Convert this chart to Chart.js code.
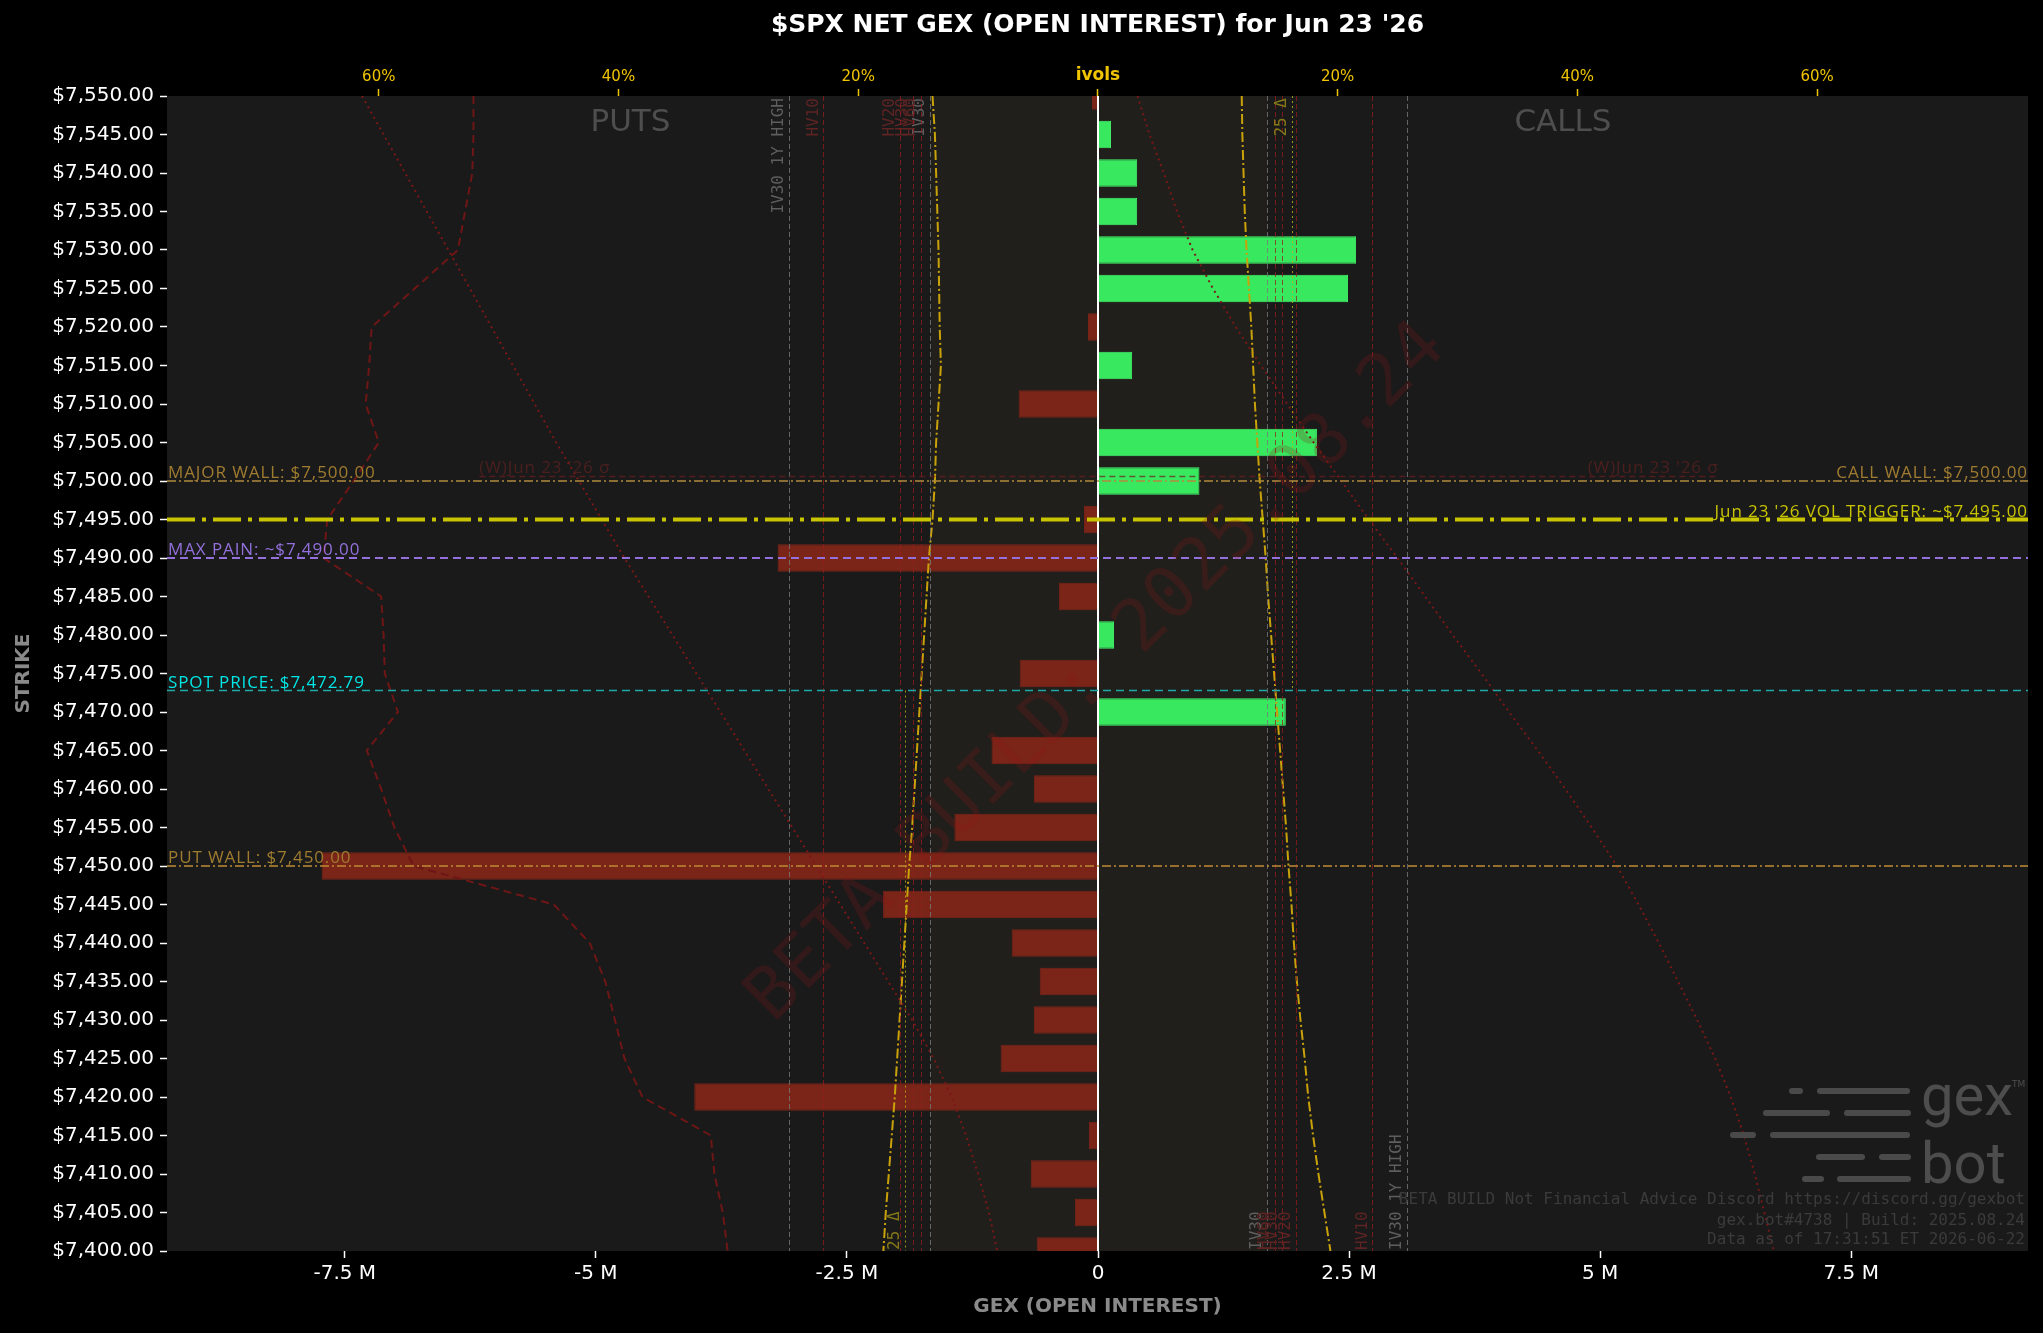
<!DOCTYPE html>
<html>
<head>
<meta charset="utf-8">
<script src="https://cdn.jsdelivr.net/npm/chart.js@4.4.0/dist/chart.umd.min.js"></script>
<style>
html,body{margin:0;padding:0;background:#000;}
#wrap{width:2043px;height:1333px;}
</style>
</head>
<body>
<div id="wrap"><canvas id="gexChart" width="2043" height="1333"></canvas></div>
<script>
// strikes, top to bottom
var strikes = [7550,7545,7540,7535,7530,7525,7520,7515,7510,7505,7500,7495,7490,7485,7480,7475,7470,
  7465,7460,7455,7450,7445,7440,7435,7430,7425,7420,7415,7410,7405,7400];
// net GEX by open interest, millions
var netGex = [-0.06,0.13,0.39,0.39,2.57,2.49,-0.10,0.34,-0.79,2.18,1.01,-0.14,-3.19,-0.39,0.16,-0.78,1.87,
  -1.06,-0.64,-1.43,-7.73,-2.14,-0.86,-0.58,-0.64,-0.97,-4.02,-0.09,-0.67,-0.23,-0.61];
// implied vols (%) - put side drawn to the left, call side to the right
var putIv = [13.8,13.6,13.5,13.4,13.3,13.25,13.2,13.1,13.3,13.5,13.6,13.8,14.1,14.3,14.5,14.7,14.9,
  15.1,15.3,15.5,15.75,15.95,16.15,16.35,16.55,16.75,16.95,17.2,17.45,17.7,17.9];
var callIv = [12.0,12.05,12.15,12.25,12.4,12.6,12.8,12.95,13.1,13.3,13.5,13.75,14.0,14.2,14.45,14.7,14.95,
  15.2,15.45,15.7,15.9,16.15,16.35,16.6,16.9,17.25,17.55,17.95,18.4,18.9,19.4];
var putCurveB = [52.1,52.1,52.2,52.8,53.4,57.0,60.6,60.8,61.1,60.0,62.1,64.3,64.6,59.8,59.6,59.5,58.4,
  61.0,59.8,58.7,57.1,45.4,42.4,41.1,40.3,39.5,38.0,32.3,32.0,31.3,30.9];
var putCurveC = [61.4,59.6,57.8,56.0,54.2,52.4,50.6,48.8,47.0,45.2,43.3,41.4,39.5,37.5,35.5,33.5,31.5,
  29.5,27.5,25.5,23.5,21.5,19.5,17.5,15.5,13.7,12.2,11.0,10.0,9.1,8.4];
var callCurveC = [3.3,4.3,5.5,6.6,7.9,9.6,11.5,13.6,15.8,18.0,20.3,22.6,25.0,27.3,29.6,32.0,34.3,
  36.7,39.0,41.2,43.3,45.1,46.8,48.4,50.0,51.5,52.8,53.9,54.8,55.6,56.4];

// reference vols (%)
var refNames = ['IV30','HV60','HV30','HV20','HV10','IV30 1Y HIGH'];
var putRefs  = [14.0,14.75,15.4,16.5,22.9,25.8];
var callRefs = [14.1,14.8,15.4,16.5,22.9,25.8];
var refKinds = ['iv','hv','hv','hv','hv','iv'];
var put25d = 16.1, call25d = 16.2;

// levels
var majorWall = 7500, callWall = 7500, putWall = 7450, volTrigger = 7495, maxPain = 7490, spot = 7472.79;
var weeklySigma = 7500.6, weeklySigmaSpan = [-6.16, 6.17];

var gexTicks = [-7.5,-5,-2.5,0,2.5,5,7.5];
var ivTicks = [-60,-40,-20,0,20,40,60];

var FONT = 'DejaVu Sans';
var MONO = 'DejaVu Sans Mono';
var LBL = 'Open Sans';

function money(v){ return '$' + v.toLocaleString('en-US',{minimumFractionDigits:2,maximumFractionDigits:2}); }

var decor = {
  id: 'decor',
  beforeDraw: function(chart){
    var c = chart.ctx, a = chart.chartArea;
    c.save();
    c.fillStyle = '#000';
    c.fillRect(0,0,chart.width,chart.height);
    c.fillStyle = '#1a1a1a';
    c.fillRect(a.left,a.top,a.right-a.left,a.bottom-a.top);
    var x2 = chart.scales.x2;
    var b0 = x2.getPixelForValue(-putRefs[0]), b1 = x2.getPixelForValue(callRefs[0]);
    c.fillStyle = '#201f1b';
    c.fillRect(b0,a.top,b1-b0,a.bottom-a.top);
    // PUTS / CALLS
    c.fillStyle = '#4e4e4e';
    c.font = '31px ' + FONT;
    c.textAlign = 'center'; c.textBaseline = 'middle';
    c.fillText('PUTS', x2.getPixelForValue(-39), a.top + 27);
    c.fillText('CALLS', x2.getPixelForValue(38.8), a.top + 27);
    c.restore();
  },
  afterDatasetsDraw: function(chart){
    var c = chart.ctx, a = chart.chartArea;
    var xs = chart.scales.x, x2 = chart.scales.x2, ys = chart.scales.y;
    c.save();
    c.beginPath(); c.rect(a.left,a.top,a.right-a.left,a.bottom-a.top); c.clip();

    function vline(px, color, dash, y0, y1){
      c.beginPath(); c.strokeStyle = color; c.lineWidth = 1; c.setLineDash(dash);
      c.moveTo(Math.round(px)+0.5, y0); c.lineTo(Math.round(px)+0.5, y1); c.stroke();
    }
    function vlabel(px, text, color, atTop){
      c.save();
      c.translate(px - 2, atTop ? a.top + 2 : a.bottom - 1);
      c.rotate(-Math.PI/2);
      c.font = '16px ' + MONO; c.fillStyle = color;
      c.textBaseline = 'bottom'; c.textAlign = atTop ? 'right' : 'left';
      c.fillText(text, 0, 0);
      c.restore();
    }
    // vertical vol references
    for (var i = 0; i < refNames.length; i++){
      var col = refKinds[i] === 'iv' ? 'rgba(120,120,120,0.8)' : 'rgba(150,30,30,0.75)';
      var tcol = refKinds[i] === 'iv' ? '#5e5e5e' : '#5e2323';
      var pl = x2.getPixelForValue(-putRefs[i]), pr = x2.getPixelForValue(callRefs[i]);
      vline(pl, col, [5,3], a.top, a.bottom);
      vline(pr, col, [5,3], a.top, a.bottom);
      vlabel(pl, refNames[i], tcol, true);
      vlabel(pr, refNames[i], tcol, false);
    }
    var ySpot = ys.getPixelForValue(spot);
    var p25 = x2.getPixelForValue(-put25d), c25 = x2.getPixelForValue(call25d);
    vline(p25, 'rgba(190,180,20,0.8)', [2,3], ySpot, a.bottom);
    vline(c25, 'rgba(190,180,20,0.8)', [2,3], a.top, ySpot);
    vlabel(p25, '25 \u0394', '#857a18', false);
    vlabel(c25, '25 \u0394', '#857a18', true);

    // zero line
    c.setLineDash([]);
    c.strokeStyle = '#ffffff'; c.lineWidth = 2;
    var x0 = xs.getPixelForValue(0);
    c.beginPath(); c.moveTo(x0, a.top); c.lineTo(x0, a.bottom); c.stroke();

    // horizontal levels
    function hline(v, color, width, dash, xa, xb){
      var py = ys.getPixelForValue(v);
      c.beginPath(); c.strokeStyle = color; c.lineWidth = width; c.setLineDash(dash);
      c.moveTo(xa === undefined ? a.left : xa, py); c.lineTo(xb === undefined ? a.right : xb, py); c.stroke();
      return py;
    }
    function label(text, color, x, y, align){
      c.font = '17px ' + LBL; c.fillStyle = color; c.textAlign = align; c.textBaseline = 'alphabetic';
      c.letterSpacing = '0.9px';
      c.fillText(text, align === 'right' ? x + 0.9 : x, y);
      c.letterSpacing = '0px';
    }
    var wx0 = xs.getPixelForValue(weeklySigmaSpan[0]), wx1 = xs.getPixelForValue(weeklySigmaSpan[1]);
    var wy = hline(weeklySigma, 'rgba(110,30,30,0.7)', 1.5, [6,4], wx0, wx1);
    label("(W)Jun 23 '26 \u03c3", '#4c1f1f', wx0, wy - 3, 'left');
    label("(W)Jun 23 '26 \u03c3", '#4c1f1f', wx1, wy - 3, 'right');

    var yMW = hline(majorWall, '#b08a3c', 1.5, [9,3,2,3]);
    label('MAJOR WALL: ' + money(majorWall), '#a07c30', a.left + 1, yMW - 3, 'left');
    label('CALL WALL: ' + money(callWall), '#a07c30', a.right - 1, ys.getPixelForValue(callWall) - 3, 'right');
    var yPW = hline(putWall, '#c08a34', 1.5, [9,3,2,3]);
    label('PUT WALL: ' + money(putWall), '#a07c30', a.left + 1, yPW - 3, 'left');
    var yVT = hline(volTrigger, '#c8c400', 4, [28,7,4,7]);
    label("Jun 23 '26 VOL TRIGGER: ~" + money(volTrigger), '#c8c400', a.right - 1, yVT - 3, 'right');
    var yMP = hline(maxPain, '#9370db', 2, [8,5]);
    label('MAX PAIN: ~' + money(maxPain), '#9370db', a.left + 1, yMP - 3, 'left');
    var yS = hline(spot, '#1fa8a8', 1.5, [8,5]);
    label('SPOT PRICE: ' + money(spot), '#00e5e5', a.left + 1, yS - 3, 'left');
    c.restore();
  },
  afterDraw: function(chart){
    var c = chart.ctx, a = chart.chartArea;
    c.save();
    // watermark
    c.save();
    c.beginPath(); c.rect(a.left,a.top,a.right-a.left,a.bottom-a.top); c.clip();
    c.translate((a.left+a.right)/2, (a.top+a.bottom)/2);
    c.rotate(-Math.PI/4);
    c.font = '72px ' + MONO; c.fillStyle = 'rgba(140,25,25,0.22)';
    c.textAlign = 'center'; c.textBaseline = 'middle';
    c.fillText('BETA BUILD: 2025.08.24', 0, 0);
    c.restore();

    // gex bot logo
    var R = a.right, B = a.bottom;
    var rows = [[-160,[[-239,-225],[-211,-118]]],[-138,[[-265,-198],[-184,-117]]],[-116,[[-298,-272],[-258,-118]]],
                [-94,[[-212,-163],[-149,-117]]],[-72,[[-226,-204],[-191,-117]]]];
    c.strokeStyle = '#4a4a4a'; c.lineWidth = 6; c.lineCap = 'round';
    rows.forEach(function(r){
      r[1].forEach(function(s){
        c.beginPath(); c.moveTo(R + s[0] + 3, B + r[0]); c.lineTo(R + s[1] - 3, B + r[0]); c.stroke();
      });
    });
    c.fillStyle = '#4d4d4d'; c.font = '58px Roboto'; c.textAlign = 'left'; c.textBaseline = 'alphabetic';
    c.fillText('gex', R - 107, B - 136);
    c.fillText('bot', R - 107, B - 68);
    c.font = '9px ' + FONT; c.fillText('TM', R - 16, B - 164);

    // footer
    c.font = '16px ' + MONO; c.fillStyle = '#3b3b3b'; c.textAlign = 'right';
    c.fillText('BETA BUILD Not Financial Advice Discord https://discord.gg/gexbot', R - 3, B - 47);
    c.fillText('gex.bot#4738 | Build: 2025.08.24', R - 3, B - 26);
    c.fillText('Data as of 17:31:51 ET 2026-06-22', R - 3, B - 7);

    // titles
    c.fillStyle = '#ffffff'; c.font = 'bold 25px ' + FONT; c.textAlign = 'center'; c.textBaseline = 'middle';
    c.fillText("$SPX NET GEX (OPEN INTEREST) for Jun 23 '26", (a.left+a.right)/2, 25);
    c.fillStyle = '#8a8a8a'; c.font = 'bold 20px ' + FONT;
    c.fillText('GEX (OPEN INTEREST)', (a.left+a.right)/2, 1307);
    c.save(); c.translate(24, (a.top+a.bottom)/2); c.rotate(-Math.PI/2);
    c.fillText('STRIKE', 0, 0); c.restore();
    c.restore();
  }
};

function curve(vals, sign, color, width, dash){
  return {
    type: 'line', xAxisID: 'x2', yAxisID: 'y', indexAxis: 'y', order: 0,
    data: strikes.map(function(s,i){ return {x: sign*vals[i], y: s}; }),
    borderColor: color, borderWidth: width, borderDash: dash,
    pointRadius: 0, fill: false, tension: 0
  };
}

new Chart(document.getElementById('gexChart'), {
  type: 'bar',
  data: {
    datasets: [
      curve(putIv, -1, '#c9a20a', 2, [10,3,2,3]),
      curve(callIv, 1, '#c9a20a', 2, [10,3,2,3]),
      curve(putCurveB, -1, '#6e1616', 2, [8,5]),
      curve(putCurveC, -1, '#7a1717', 2, [2,4]),
      curve(callCurveC, 1, '#7a1717', 2, [2,4]),
      {
        type: 'bar', xAxisID: 'x', yAxisID: 'y', order: 10,
        data: strikes.map(function(s,i){ return {x: netGex[i], y: s}; }),
        backgroundColor: netGex.map(function(v){ return v >= 0 ? '#38e85f' : '#7b2418'; }),
        borderColor: netGex.map(function(v){ return v >= 0 ? '#46f56c' : '#7b2418'; }),
        borderWidth: 1,
        barPercentage: 0.9, categoryPercentage: 0.8
      }
    ]
  },
  options: {
    responsive: false, animation: false, devicePixelRatio: 1,
    indexAxis: 'y',
    layout: {padding: {left: 0, right: 15, top: 0, bottom: 0}},
    plugins: {legend: {display: false}, tooltip: {enabled: false}, title: {display: false}},
    scales: {
      y: {
        type: 'linear', position: 'left', min: 7400, max: 7550, offset: false,
        afterFit: function(s){ s.width = 167; },
        afterBuildTicks: function(s){ s.ticks = strikes.slice().reverse().map(function(v){ return {value: v}; }); },
        ticks: {color: '#ffffff', font: {family: FONT, size: 20}, padding: 6, autoSkip: false,
          callback: function(v){ return money(v); }},
        grid: {drawOnChartArea: false, offset: false, color: '#ffffff', tickLength: 7, tickWidth: 1.5},
        border: {display: false}
      },
      x: {
        type: 'linear', position: 'bottom', min: -9.27, max: 9.26, offset: false,
        afterFit: function(s){ s.height = 82; },
        afterBuildTicks: function(s){ s.ticks = gexTicks.map(function(v){ return {value: v}; }); },
        ticks: {color: '#ffffff', font: {family: FONT, size: 20}, padding: 4, autoSkip: false, maxRotation: 0,
          callback: function(v){ return v === 0 ? '0' : v + ' M'; }},
        grid: {drawOnChartArea: false, offset: false, color: '#ffffff', tickLength: 7, tickWidth: 1.5},
        border: {display: false}
      },
      x2: {
        type: 'linear', position: 'top', min: -77.67, max: 77.6, offset: false,
        afterFit: function(s){ s.height = 96; },
        afterBuildTicks: function(s){ s.ticks = ivTicks.map(function(v){ return {value: v}; }); },
        ticks: {color: '#f0c400', padding: 3, autoSkip: false, maxRotation: 0,
          font: function(ctx){ return (ctx.tick && ctx.tick.value === 0) ? {family: FONT, size: 17, weight: 'bold'} : {family: FONT, size: 15}; },
          callback: function(v){ return v === 0 ? 'ivols' : Math.abs(v) + '%'; }},
        grid: {drawOnChartArea: false, offset: false, color: '#f0c400', tickLength: 7, tickWidth: 1.5},
        border: {display: false}
      }
    }
  },
  plugins: [decor]
});
</script>
</body>
</html>
